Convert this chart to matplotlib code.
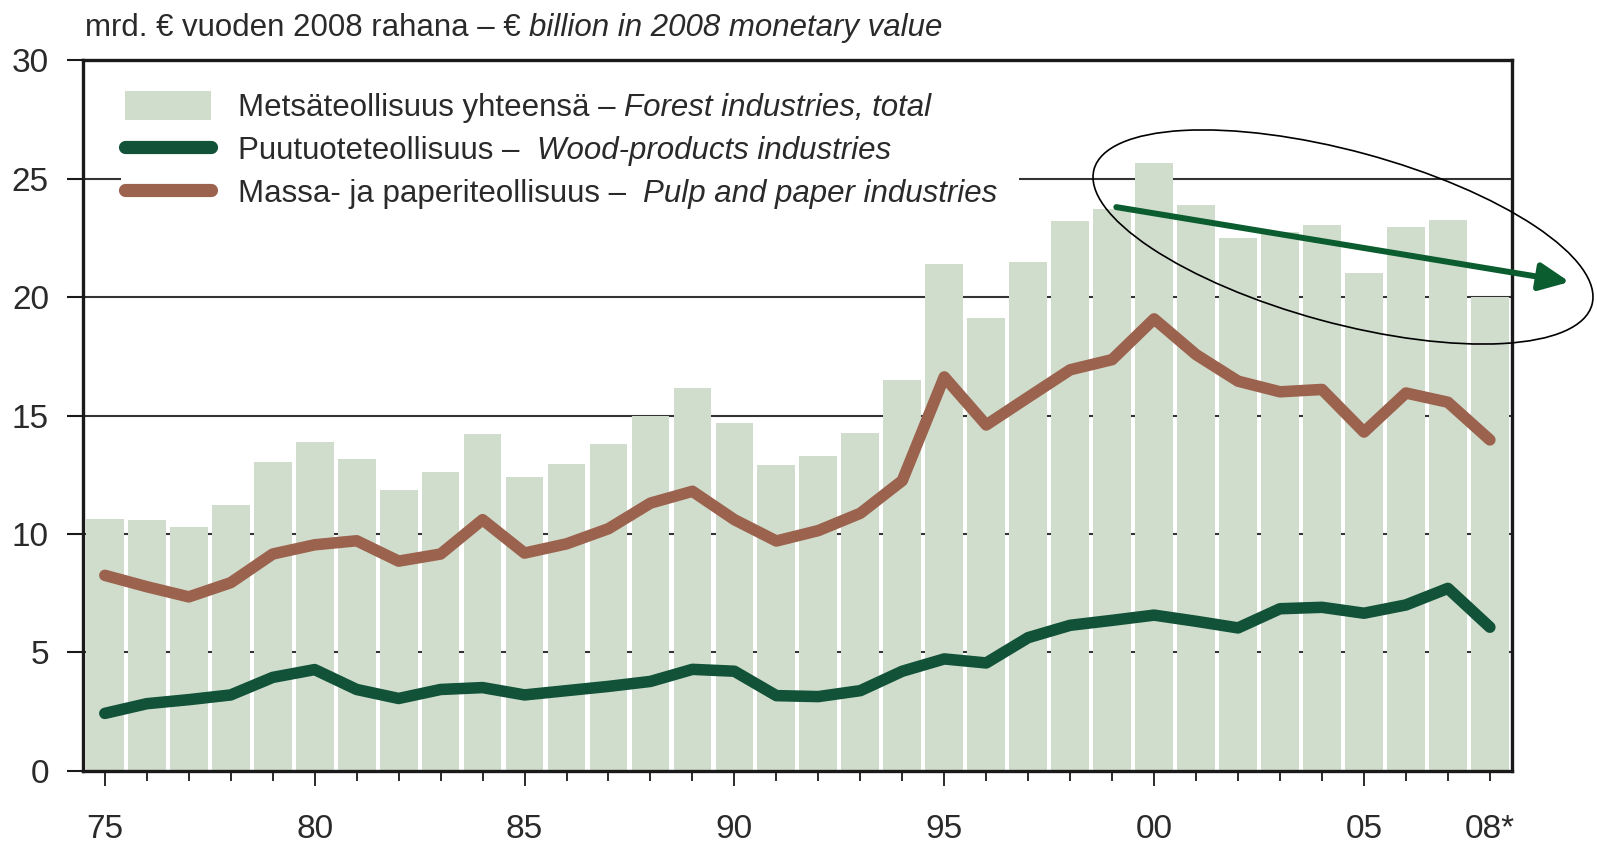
import matplotlib
matplotlib.use('Agg')
import matplotlib.pyplot as plt
from matplotlib.patches import Ellipse, Rectangle, Patch
from matplotlib.lines import Line2D
from matplotlib.transforms import IdentityTransform, Bbox

FONT = ['Liberation Sans Narrow', 'Liberation Sans', 'DejaVu Sans']
plt.rcParams['font.family'] = FONT

# ---------------- data ----------------
years = list(range(1975, 2009))
forest_total = [10.65, 10.57, 10.3, 11.2, 13.05, 13.9, 13.15, 11.85, 12.6, 14.2,
                12.4, 12.97, 13.8, 15.0, 16.15, 14.7, 12.9, 13.3, 14.25, 16.5,
                21.4, 19.1, 21.5, 23.2, 23.7, 25.65, 23.9, 22.5, 22.75, 23.05,
                21.03, 22.97, 23.25, 20.0]
wood_products = [2.42, 2.83, 3.0, 3.2, 3.94, 4.27, 3.43, 3.05, 3.43, 3.51,
                 3.2, 3.38, 3.56, 3.77, 4.28, 4.2, 3.17, 3.13, 3.38, 4.2,
                 4.72, 4.55, 5.62, 6.14, 6.35, 6.57, 6.31, 6.03, 6.84, 6.9,
                 6.65, 7.0, 7.7, 6.06]
pulp_paper = [8.25, 7.77, 7.34, 7.94, 9.15, 9.54, 9.71, 8.85, 9.15, 10.6,
              9.19, 9.58, 10.22, 11.3, 11.8, 10.6, 9.7, 10.14, 10.87, 12.25,
              16.63, 14.6, 15.77, 16.93, 17.36, 19.08, 17.57, 16.45, 16.0, 16.1,
              14.3, 15.95, 15.56, 13.97]
xtick_pos = [1975, 1980, 1985, 1990, 1995, 2000, 2005, 2008]
xtick_labels = ['75', '80', '85', '90', '95', '00', '05', '08*']
ytick_vals = [0, 5, 10, 15, 20, 25, 30]
trend_start = (1999.1, 23.8)
trend_end = (2009.9, 20.64)

labels_fi = ['Metsäteollisuus yhteensä – ', 'Puutuoteteollisuus –  ',
             'Massa- ja paperiteollisuus –  ']
labels_en = ['Forest industries, total', 'Wood-products industries',
             'Pulp and paper industries']
title_fi = 'mrd. € vuoden 2008 rahana – € '
title_en = 'billion in 2008 monetary value'

# ---------------- style ----------------
BAR = '#d0ddcc'
GREEN = '#115238'
BROWN = '#9b624e'
ARROW = '#0b5c2e'
TXT = '#2a2a2a'
FS = 24      # tick labels
LFS = 22.5   # legend / title

fig = plt.figure(figsize=(15.97, 8.44), dpi=100)
ax = fig.add_axes([83 / 1597, 1 - 770.7 / 844, (1511.7 - 83) / 1597, (770.7 - 60.3) / 844])

# gridlines behind bars
ax.hlines(ytick_vals[1:-1], 1974.48, 2008.52, colors='#333333', lw=1.5, zorder=1)

ax.bar(years, forest_total, width=0.9, color=BAR, zorder=2)
ax.plot(years, pulp_paper, color=BROWN, lw=8.3, solid_joinstyle='round',
        solid_capstyle='round', zorder=3)
ax.plot(years, wood_products, color=GREEN, lw=8.3, solid_joinstyle='round',
        solid_capstyle='round', zorder=3)

ax.set_xlim(1974.48, 2008.52)
ax.set_ylim(0, 30)

for s in ax.spines.values():
    s.set_linewidth(2.4)
    s.set_color('#1a1a1a')

ax.set_yticks(ytick_vals)
ax.set_yticklabels([str(v) for v in ytick_vals])
ax.tick_params(axis='y', direction='out', length=11.5, width=1.5, pad=13,
               labelsize=FS, labelcolor=TXT, color='#1a1a1a')
ax.set_xticks(xtick_pos)
ax.set_xticklabels(xtick_labels)
ax.set_xticks(years, minor=True)
ax.tick_params(axis='x', which='major', direction='out', length=10.8, width=1.3,
               pad=20.5, labelsize=FS, labelcolor=TXT, color='#1a1a1a')
ax.tick_params(axis='x', which='minor', direction='out', length=7.2, width=1.3,
               color='#1a1a1a')
ax.xaxis.get_major_ticks()[-1].tick1line.set_markersize(7.2)

# legend
handles = [Patch(facecolor=BAR, edgecolor='none'),
           Line2D([], [], color=GREEN, lw=9.5, solid_capstyle='round'),
           Line2D([], [], color=BROWN, lw=9.5, solid_capstyle='round')]
leg = ax.legend(handles, labels_fi, loc='upper left',
                bbox_to_anchor=(0.0294, 0.957), borderaxespad=0, borderpad=0,
                frameon=False, fontsize=LFS, handlelength=2.75, handleheight=1.06,
                handletextpad=0.86, labelspacing=0.35)
leg.set_zorder(5)
for t in leg.get_texts():
    t.set_color(TXT)
it_texts = []
for t, en in zip(leg.get_texts(), labels_en):
    a = ax.annotate(en, xy=(1, 0), xycoords=t, va='bottom', ha='left',
                    fontsize=LFS, fontstyle='italic', color=TXT, zorder=6)
    it_texts.append(a)

# title
t1 = fig.text(85 / 1597, 1 - 36 / 844, title_fi, fontsize=LFS, color=TXT,
              va='baseline', ha='left')
ax.annotate(title_en, xy=(1, 0), xycoords=t1, va='bottom', ha='left',
            fontsize=LFS, fontstyle='italic', color=TXT, annotation_clip=False)

# white background behind legend (covers gridline)
fig.canvas.draw()
r = fig.canvas.get_renderer()
bb = Bbox.union([leg.get_window_extent(r)] + [a.get_window_extent(r) for a in it_texts])
ax.add_patch(Rectangle((bb.x0 - 4, bb.y0 - 4), bb.width + 26, bb.height + 6,
                       transform=IdentityTransform(), facecolor='white',
                       edgecolor='none', zorder=1.5))

# trend arrow and ellipse annotation
ax.annotate('', xy=trend_end, xytext=trend_start,
            arrowprops=dict(arrowstyle='-|>,head_length=18,head_width=8.3',
                            mutation_scale=1, lw=4.3, color=ARROW,
                            shrinkA=0, shrinkB=0),
            annotation_clip=False, zorder=7)
fig.add_artist(Ellipse((13.43, 6.07), 5.16, 1.72, angle=-15.2,
                       transform=fig.dpi_scale_trans, fill=False,
                       edgecolor='black', lw=1.2, zorder=8))

fig.savefig('out.png', dpi=100)
